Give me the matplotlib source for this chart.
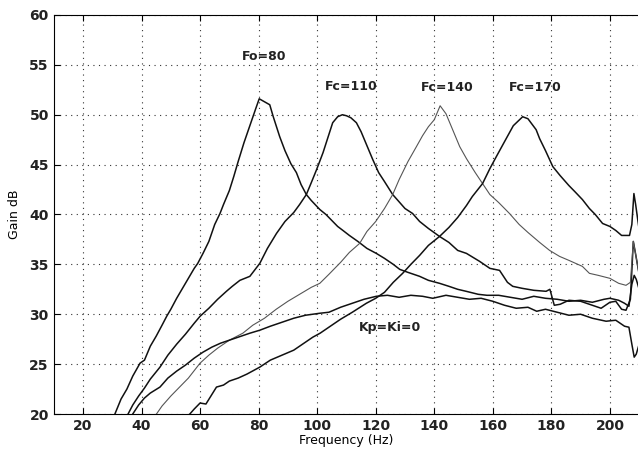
import numpy as np
import matplotlib.pyplot as plt

# curves (freq Hz, gain dB)
f_80 = [30.9, 33, 35, 37, 39.5, 41, 43, 45, 47, 48.6, 50, 52, 54, 56, 58, 59.2, 61, 63, 65, 66.8,
        68, 70, 71.5, 73, 75, 77, 79, 80.2, 82, 83.8, 85, 87.2, 89, 91, 92.9, 94.5, 96.3, 98,
        100.9, 103, 105, 107, 108.8, 111, 113.9, 117, 120.2, 123, 126, 128.2, 131, 135, 138,
        141.8, 145, 148, 150.9, 155, 158, 162, 166, 170, 174, 178, 182, 186, 190, 194, 198,
        200, 203, 205, 206.5, 207.5, 208.3, 209, 210]
g_80 = [20.0, 21.5, 22.5, 23.8, 25.1, 25.4, 26.8, 27.8, 28.9, 29.8, 30.5, 31.6, 32.6, 33.6, 34.6,
        35.1, 36.1, 37.3, 39.0, 40.1, 41.0, 42.4, 43.8, 45.3, 47.2, 48.9, 50.6, 51.6, 51.3, 51.0,
        49.8, 47.8, 46.4, 45.1, 44.2, 43.0, 42.0, 41.4, 40.5, 40.0, 39.4, 38.8, 38.4, 37.9, 37.3,
        36.6, 36.1, 35.6, 35.0, 34.5, 34.2, 33.8, 33.4, 33.1, 32.8, 32.5, 32.3, 32.0, 31.9, 31.9,
        31.7, 31.5, 31.8, 31.6, 31.5, 31.3, 31.4, 31.2, 31.5, 31.6, 31.4, 31.1, 30.8, 33.0, 33.9,
        33.5, 32.5]

f_110 = [35.4, 37, 39, 41, 43, 46.3, 49, 52, 55, 58, 60, 63, 66, 69, 71, 73.6, 77, 80.4, 83, 86.1,
         89, 92, 94, 96.3, 98, 99.8, 102, 105.3, 107, 108.6, 110, 111.5, 113.4, 115, 117, 119,
         121, 123, 125.8, 128.2, 130, 132.6, 135, 138, 141.8, 145, 148, 151, 155.5, 159, 162.3,
         165, 166.8, 170, 174, 178.2, 179.5, 181, 183, 186, 190, 194, 197, 200, 202, 204, 205.5,
         207, 208, 208.8, 210]
g_110 = [20.0, 20.9, 21.8, 22.6, 23.5, 24.7, 25.9, 27.0, 28.0, 29.1, 29.8, 30.6, 31.5, 32.3, 32.8,
         33.4, 33.8, 35.1, 36.6, 38.1, 39.3, 40.2, 41.0, 42.0, 43.2, 44.5, 46.2, 49.2, 49.8, 50.0,
         49.9, 49.7, 49.2, 48.3, 46.9, 45.5, 44.2, 43.3, 42.0, 41.2, 40.6, 40.1, 39.3, 38.6, 37.8,
         37.2, 36.4, 36.1, 35.3, 34.6, 34.4, 33.2, 32.8, 32.6, 32.4, 32.3, 32.5, 30.9, 31.0, 31.4,
         31.3, 30.9, 30.6, 31.2, 31.3, 30.5, 30.4, 31.5, 37.3, 36.0, 34.0]

f_140 = [45.1, 47, 50, 53, 56, 60, 63, 66, 70, 74.6, 78, 82, 86, 90, 94, 98, 100.9, 104, 108, 111,
         114.5, 117, 120, 123, 125.8, 128, 131, 133.9, 136, 138, 140, 142, 144, 146, 148.7, 151,
         154, 156.5, 159, 162, 165.7, 169, 172, 176, 179.4, 182.8, 186, 190.6, 193, 196, 200,
         203, 205.5, 207, 208, 208.8, 210]
g_140 = [20.0, 20.8, 21.8, 22.7, 23.6, 25.1, 25.9, 26.6, 27.4, 28.1, 28.9, 29.6, 30.5, 31.3, 32.0,
         32.7, 33.1, 34.0, 35.2, 36.2, 37.1, 38.3, 39.3, 40.6, 42.0, 43.5, 45.3, 46.8, 47.9, 48.8,
         49.5, 50.9, 50.1, 48.7, 46.8, 45.6, 44.2, 43.1, 42.0, 41.2, 40.1, 39.0, 38.2, 37.2, 36.4,
         35.8, 35.4, 34.8, 34.1, 33.9, 33.6, 33.1, 32.9, 33.2, 37.3, 36.0, 34.0]

f_170 = [56.5, 58, 60, 62, 65.6, 68, 70, 73, 76, 80.4, 84, 88, 92, 96, 98.5, 101, 104, 108, 112,
         116.8, 120, 123, 126, 129.2, 132, 135, 138, 141.8, 145, 148, 151, 153, 156.5, 159, 161.2,
         164, 167, 170.2, 172, 174.8, 176, 178, 180.5, 183, 186, 188, 190.6, 193, 195, 197.5, 200,
         202, 204, 206.7, 207.5, 208.2, 208.8, 209.5, 210]
g_170 = [20.0, 20.5, 21.1, 21.0, 22.7, 22.9, 23.3, 23.6, 24.0, 24.7, 25.4, 25.9, 26.4, 27.2, 27.7,
         28.1, 28.7, 29.5, 30.2, 31.1, 31.6, 32.2, 33.2, 34.1, 35.0, 35.9, 36.9, 37.8, 38.7, 39.7,
         40.9, 41.8, 43.1, 44.6, 45.8, 47.3, 48.9, 49.8, 49.6, 48.5, 47.6, 46.4, 44.8, 43.9, 42.9,
         42.3, 41.5, 40.6, 40.0, 39.1, 38.8, 38.4, 37.9, 37.9, 39.0, 42.1, 41.0, 39.5, 38.5]

f_0 = [37, 39, 41, 43, 46.3, 49, 52, 55, 58, 61, 64, 67, 70, 74, 77, 80.4, 84, 88, 92, 96, 100.9,
       104, 108, 112, 116, 120.2, 124, 128, 132, 136, 139.5, 144, 148, 152, 156, 160, 164, 168,
       172, 175, 178, 182, 186, 190, 194, 198.7, 202, 205, 206.5, 207.5, 208.3, 209, 210]
g_0 = [20.0, 20.9, 21.6, 22.1, 22.7, 23.6, 24.3, 24.9, 25.6, 26.2, 26.7, 27.1, 27.4, 27.8, 28.1,
       28.4, 28.8, 29.2, 29.6, 29.9, 30.1, 30.2, 30.7, 31.1, 31.5, 31.8, 31.9, 31.7, 31.9, 31.8,
       31.6, 31.9, 31.7, 31.5, 31.6, 31.3, 30.9, 30.6, 30.7, 30.3, 30.5, 30.2, 29.9, 30.0, 29.6,
       29.3, 29.4, 28.8, 28.7, 27.0, 25.7, 26.0, 27.0]

labels = ['Fo=80', 'Fc=110', 'Fc=140', 'Fc=170', 'Kp=Ki=0']
label_x = [82, 111.8, 144.6, 174.6, 124.8]
label_y = [55.8, 52.8, 52.7, 52.7, 28.7]

fig = plt.figure(figsize=(6.38, 4.5), dpi=100)
ax = fig.add_axes([0.0842, 0.08, 0.9158, 0.8867])

ax.plot(f_80, g_80, color='#111111', lw=1.1)
ax.plot(f_110, g_110, color='#111111', lw=1.1)
ax.plot(f_140, g_140, color='#555555', lw=0.8)
ax.plot(f_170, g_170, color='#111111', lw=1.1)
ax.plot(f_0, g_0, color='#111111', lw=1.1)

for t, x, y in zip(labels, label_x, label_y):
    ax.text(x, y, t, ha='center', va='center', fontsize=9, fontweight='bold', color='#222222')

ax.set_xlim(10, 209.6)
ax.set_ylim(20, 60)
ax.set_xticks(np.arange(20, 201, 20))
ax.set_yticks(np.arange(20, 61, 5))
ax.grid(True, color='#333333', linestyle=(0, (1, 4)), linewidth=0.8)
ax.tick_params(direction='in', top=True, right=False, labelsize=10, length=4)
ax.spines['right'].set_visible(False)
for lab in ax.get_xticklabels() + ax.get_yticklabels():
    lab.set_fontweight('bold')
    lab.set_color('#222222')
ax.set_xlabel('Frequency (Hz)', fontsize=9, labelpad=1)
ax.set_ylabel('Gain dB', fontsize=9, labelpad=6)

fig.savefig('out.png', dpi=100)
